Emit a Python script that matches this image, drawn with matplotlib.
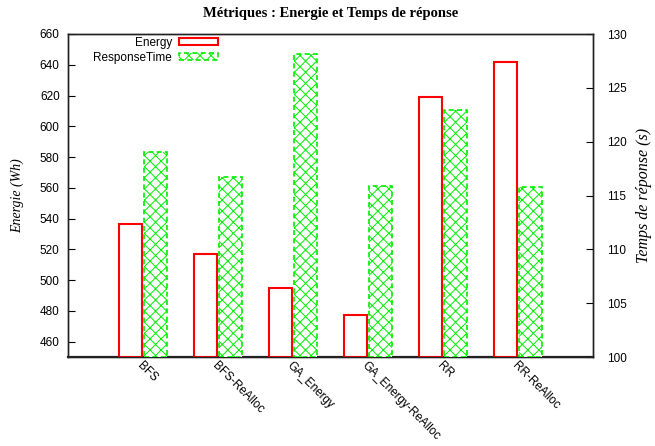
import matplotlib
matplotlib.use("Agg")
import matplotlib.pyplot as plt
import matplotlib.transforms as mtransforms
import numpy as np

categories = ["BFS", "BFS-ReAlloc", "GA_Energy", "GA_Energy-ReAlloc", "RR", "RR-ReAlloc"]
energy = [536.5, 517, 495, 477.5, 619, 642]
response_time = [119.0, 116.7, 128.1, 115.9, 122.9, 115.8]
left_ticks = [460, 480, 500, 520, 540, 560, 580, 600, 620, 640, 660]
right_ticks = [100, 105, 110, 115, 120, 125, 130]

sans = "Liberation Sans"
serif = "Liberation Serif"

plt.rcParams["hatch.linewidth"] = 0.7

fig = plt.figure(figsize=(6.55, 4.46), dpi=100)
ax = fig.add_axes([68/655, 1-357/446, 525/655, 323/446])
ax2 = ax.twinx()

x = np.arange(len(categories))
w = 0.31
off = 0.167

e_bottom = 450
ax.bar(x - off, np.array(energy) - e_bottom, bottom=e_bottom, width=w,
       facecolor="white", edgecolor="#ff0000", linewidth=1.5, label="Energy", zorder=3)
rt_bottom = 100
ax2.bar(x + off, np.array(response_time) - rt_bottom, bottom=rt_bottom, width=w,
        facecolor="white", edgecolor="#00ee00", linewidth=1.2, linestyle=(0, (3, 2)),
        hatch="xxx", label="ResponseTime", zorder=3)

ax.set_xlim(-1, 6)
ax.set_ylim(450, 660)
ax2.set_ylim(100, 130)
ax.set_yticks(left_ticks)
ax2.set_yticks(right_ticks)
ax.set_xticks(x)
ax.set_xticklabels(categories, rotation=-45, ha="left", va="top",
                   rotation_mode="anchor", fontsize=8.5, family=sans)
shift = mtransforms.ScaledTranslation(3/100, 2/100, fig.dpi_scale_trans)
for lab in ax.get_xticklabels():
    lab.set_transform(lab.get_transform() + shift)
for lab in ax.get_yticklabels():
    lab.set_family(sans)
    lab.set_fontsize(8.5)
for lab in ax2.get_yticklabels():
    lab.set_family(sans)
    lab.set_fontsize(8.5)

ax.tick_params(axis="y", direction="in", length=5, width=0.8, pad=6)
ax2.tick_params(axis="y", direction="in", length=5, width=0.8, pad=10)
ax.tick_params(axis="x", length=0, pad=2)

for a in (ax, ax2):
    for s in a.spines.values():
        s.set_linewidth(1.0)
        s.set_color("#222222")
ax.spines["bottom"].set_linewidth(1.6)

ax.set_ylabel("Energie (Wh)", family=serif, style="italic", fontsize=10, labelpad=11)
ax2.set_ylabel("Temps de réponse (s)", family=serif, style="italic", fontsize=11.5, labelpad=7)

fig.text((68+593)/2/655, 1-14/446, "Métriques : Energie et Temps de réponse",
         ha="center", va="center", family=serif, weight="bold", fontsize=10.5)

h1, l1 = ax.get_legend_handles_labels()
h2, l2 = ax2.get_legend_handles_labels()
leg = ax2.legend(h1 + h2, l1 + l2, loc="upper right", bbox_to_anchor=(218/655, 1-37/446),
                 bbox_transform=fig.transFigure, frameon=False, markerfirst=False,
                 prop={"family": sans, "size": 8.5}, handlelength=3.3, handleheight=0.55,
                 handletextpad=0.6, labelspacing=0.25, borderpad=0, borderaxespad=0)

fig.savefig("out.png", dpi=100)
